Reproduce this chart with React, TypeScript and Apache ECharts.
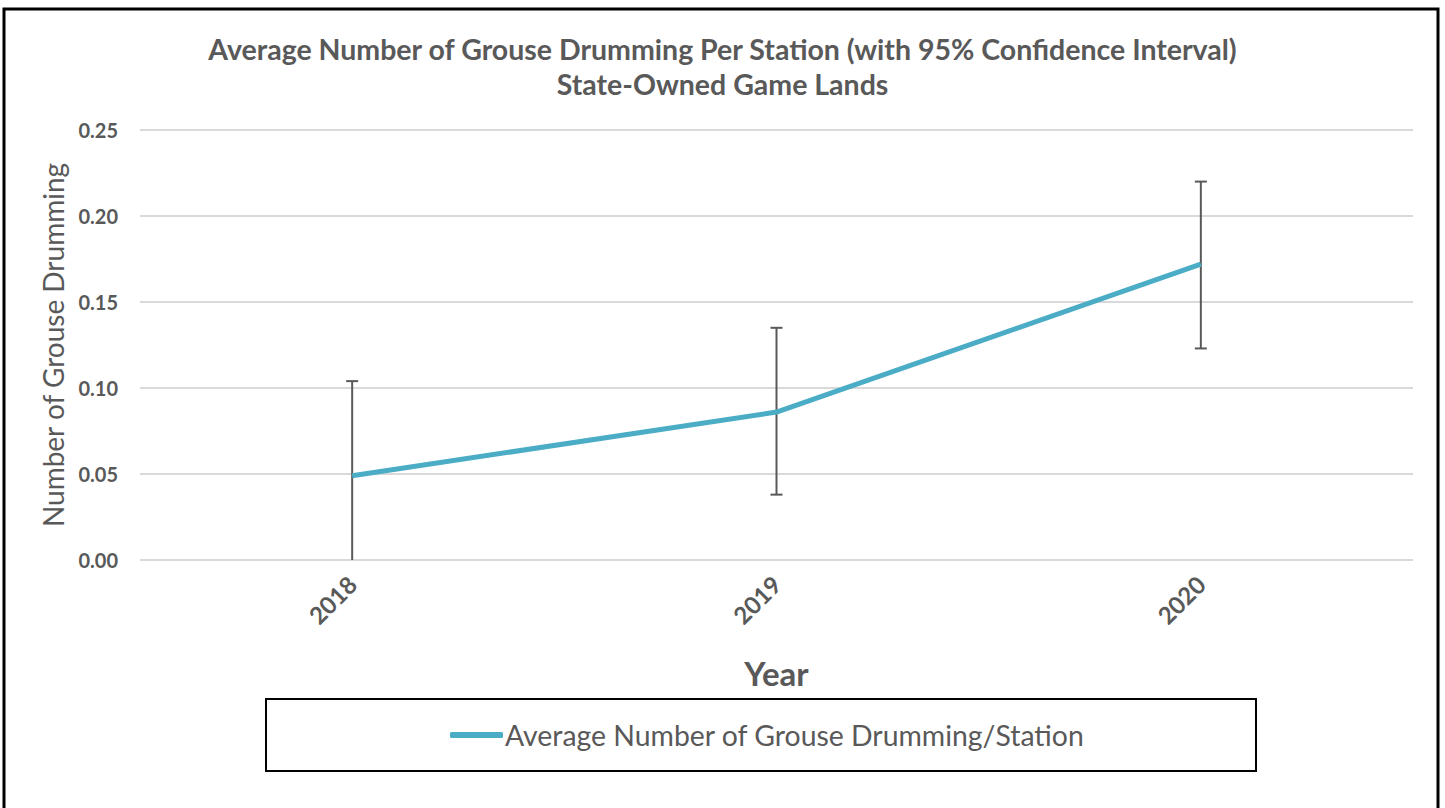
import React, { useEffect, useRef } from "react";
import * as echarts from "echarts";

const years = ["2018", "2019", "2020"];
const means = [0.049, 0.086, 0.172];
const upper = [0.104, 0.135, 0.22];
const lower = [-0.006, 0.038, 0.123];
const seriesName = "Average Number of Grouse Drumming/Station";
const titleText =
  "Average Number of Grouse Drumming Per Station (with 95% Confidence Interval)\nState-Owned Game Lands";

const FONT = "Lato, 'Open Sans', sans-serif";
const GREY = "#595959";

export default function App() {
  const ref = useRef<HTMLDivElement>(null);
  useEffect(() => {
    document.body.style.margin = "0";
    const chart = echarts.init(ref.current!, null, { renderer: "svg" });
    const errData = years.map((_, i) => [i, lower[i], upper[i]]);
    chart.setOption({
      animation: false,
      backgroundColor: "#fff",
      textStyle: { fontFamily: FONT },
      title: {
        text: titleText,
        left: "center",
        top: 26,
        textStyle: {
          fontFamily: FONT,
          fontWeight: "bold",
          fontSize: 28.5,
          color: GREY,
          lineHeight: 35,
        },
      },
      graphic: [
        {
          type: "rect",
          shape: { x: 4, y: 9, width: 1434, height: 810 },
          style: { fill: "none", stroke: "#000", lineWidth: 3 },
          silent: true,
        },
        {
          type: "rect",
          shape: { x: 266, y: 699, width: 990, height: 72 },
          style: { fill: "none", stroke: "#000", lineWidth: 2 },
          silent: true,
        },
      ],
      grid: { left: 140, right: 32, top: 130, bottom: 248 },
      legend: {
        data: [{ name: seriesName, icon: "roundRect" }],
        left: 445,
        top: 716,
        itemWidth: 53,
        itemHeight: 6,
        textStyle: { fontFamily: FONT, fontSize: 28.4, color: GREY, padding: [0, 0, 0, -3] },
      },
      xAxis: {
        type: "category",
        data: years,
        boundaryGap: true,
        axisLine: { show: false },
        axisTick: { show: false },
        axisLabel: {
          rotate: 45,
          margin: 20,
          fontFamily: FONT,
          fontWeight: "bold",
          fontSize: 24,
          color: GREY,
        },
        name: "Year",
        nameLocation: "middle",
        nameGap: 96,
        nameTextStyle: { fontFamily: FONT, fontWeight: "bold", fontSize: 33, color: GREY },
      },
      yAxis: {
        type: "value",
        min: 0,
        max: 0.25,
        interval: 0.05,
        axisLine: { show: false },
        axisTick: { show: false },
        splitLine: { lineStyle: { color: "#d9d9d9", width: 2 } },
        axisLabel: {
          margin: 22,
          formatter: (v: number) => v.toFixed(2),
          fontFamily: FONT,
          fontWeight: "bold",
          fontSize: 20,
          color: GREY,
        },
        name: "Number of Grouse Drumming",
        nameLocation: "middle",
        nameGap: 73,
        nameTextStyle: { fontFamily: FONT, fontSize: 28, color: GREY },
      },
      series: [
        {
          type: "custom",
          name: "ci",
          data: errData,
          z: 3,
          renderItem: (params: any, api: any) => {
            const x = api.value(0);
            const lo = api.value(1);
            const hi = api.value(2);
            const loClipped = Math.max(lo, 0);
            const pHi = api.coord([x, hi]);
            const pLo = api.coord([x, loClipped]);
            const cap = 6;
            const children: any[] = [
              {
                type: "line",
                shape: { x1: pHi[0], y1: pHi[1], x2: pLo[0], y2: pLo[1] },
                style: { stroke: GREY, lineWidth: 2 },
              },
              {
                type: "line",
                shape: { x1: pHi[0] - cap, y1: pHi[1], x2: pHi[0] + cap, y2: pHi[1] },
                style: { stroke: GREY, lineWidth: 2 },
              },
            ];
            if (lo >= 0) {
              children.push({
                type: "line",
                shape: { x1: pLo[0] - cap, y1: pLo[1], x2: pLo[0] + cap, y2: pLo[1] },
                style: { stroke: GREY, lineWidth: 2 },
              });
            }
            return { type: "group", children };
          },
        },
        {
          type: "line",
          name: seriesName,
          data: means,
          z: 4,
          symbol: "none",
          color: "#4BACC6",
          lineStyle: { width: 5, color: "#4BACC6" },
        },
      ],
    });
    return () => chart.dispose();
  }, []);
  return <div ref={ref} style={{ width: 1445, height: 808 }} />;
}
